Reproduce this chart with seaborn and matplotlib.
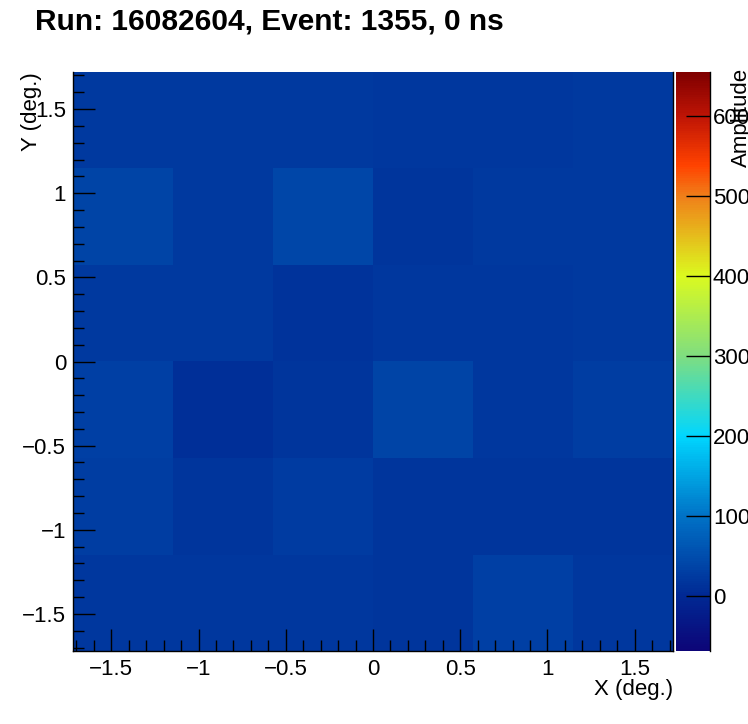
import numpy as np
import pandas as pd
import matplotlib
matplotlib.use("Agg")
import matplotlib.pyplot as plt
from matplotlib.colors import LinearSegmentedColormap
from matplotlib.ticker import MultipleLocator
import seaborn as sns

# ---- data ----
x_centers = [-1.433, -0.860, -0.287, 0.287, 0.860, 1.433]
y_centers = [1.433, 0.860, 0.287, -0.287, -0.860, -1.433]   # top row first
amplitude = [
    [22, 22, 22, 20, 21, 22],
    [36, 22, 40, 16, 23, 23],
    [23, 23, 14, 20, 20, 22],
    [30,  8, 18, 36, 20, 28],
    [28, 18, 26, 18, 16, 16],
    [20, 20, 20, 16, 30, 20],
]
z_min, z_max = -69, 655
x_range = (-1.72, 1.72)
y_range = (-1.72, 1.72)
title = "Run: 16082604, Event: 1355, 0 ns"
x_label = "X (deg.)"
y_label = "Y (deg.)"
z_label = "Amplitude"
z_ticks = [0, 100, 200, 300, 400, 500, 600]

rows = []
for i, yc in enumerate(y_centers):
    for j, xc in enumerate(x_centers):
        rows.append({"x": xc, "y": yc, "amp": amplitude[i][j]})
df = pd.DataFrame(rows)

sns.set_style("white")
plt.rcParams["font.family"] = ["Liberation Sans", "DejaVu Sans"]
plt.rcParams["text.color"] = "black"
plt.rcParams["xtick.color"] = "black"
plt.rcParams["ytick.color"] = "black"
plt.rcParams["axes.axisbelow"] = False

stops = [
    (0.000, (0.05, 0.02, 0.47)),
    (0.095, (0.00, 0.16, 0.58)),
    (0.233, (0.00, 0.45, 0.78)),
    (0.371, (0.00, 0.84, 1.00)),
    (0.510, (0.50, 0.87, 0.50)),
    (0.648, (0.86, 0.98, 0.12)),
    (0.786, (0.94, 0.50, 0.10)),
    (0.840, (1.00, 0.26, 0.00)),
    (0.924, (0.75, 0.08, 0.02)),
    (1.000, (0.50, 0.00, 0.00)),
]
cmap = LinearSegmentedColormap.from_list("rootlike", stops, N=256)

W, H = 748, 724
fig = plt.figure(figsize=(W / 100, H / 100), dpi=100)
ax = fig.add_axes([73 / W, 1 - 651 / H, 600 / W, 579 / H])
cax = fig.add_axes([676 / W, 1 - 651 / H, 34 / W, 579 / H])

sns.histplot(
    data=df, x="x", y="y", weights="amp",
    bins=6, binrange=[x_range, y_range],
    cmap=cmap, vmin=z_min, vmax=z_max, thresh=None,
    cbar=True, cbar_ax=cax, ax=ax,
)

ax.set_axisbelow(False)
cax.set_axisbelow(False)
ax.set_xlim(*x_range)
ax.set_ylim(*y_range)
ax.xaxis.set_major_locator(MultipleLocator(0.5))
ax.xaxis.set_minor_locator(MultipleLocator(0.1))
ax.yaxis.set_major_locator(MultipleLocator(0.5))
ax.yaxis.set_minor_locator(MultipleLocator(0.1))
fmt = lambda v, p: ("%g" % v).replace("-", "\u2212")
ax.xaxis.set_major_formatter(fmt)
ax.yaxis.set_major_formatter(fmt)
ax.tick_params(axis="both", which="major", direction="in", length=16, width=1,
               labelsize=16, color="black", labelcolor="black",
               bottom=True, left=True, top=False, right=False)
ax.tick_params(axis="both", which="minor", direction="in", length=8, width=1,
               color="black", bottom=True, left=True, top=False, right=False)
ax.tick_params(axis="x", which="major", pad=6)
ax.tick_params(axis="y", which="major", pad=5)
for s in ["left", "bottom", "right"]:
    ax.spines[s].set_visible(True)
    ax.spines[s].set_color("black")
    ax.spines[s].set_linewidth(1)
ax.spines["top"].set_visible(False)
ax.set_xlabel("")
ax.set_ylabel("")

fig.text(673 / W, 1 - 690 / H, x_label, ha="right", va="center", fontsize=16)
fig.text(32 / W, 1 - 72 / H, y_label, ha="center", va="top", rotation=90, fontsize=16)
fig.text(35 / W, 1 - 21 / H, title, ha="left", va="center", fontsize=21.5, fontweight="bold")

cax.set_yticks(z_ticks)
cax.yaxis.set_ticks_position("right")
cax.tick_params(axis="y", which="major", direction="in", length=17, width=1,
                labelsize=16, color="black", labelcolor="black",
                right=True, left=False, labelright=True, labelleft=False, pad=2)
try:
    cb = ax.collections[0].colorbar
    cb.outline.set_visible(False)
except Exception:
    pass
for s in cax.spines.values():
    s.set_visible(False)
cax.spines["right"].set_visible(True)
cax.spines["right"].set_color("black")
cax.spines["right"].set_linewidth(1)

fig.text(741 / W, 1 - 68 / H, z_label, ha="center", va="top", rotation=90, fontsize=16)

fig.savefig("out.png", dpi=100)
